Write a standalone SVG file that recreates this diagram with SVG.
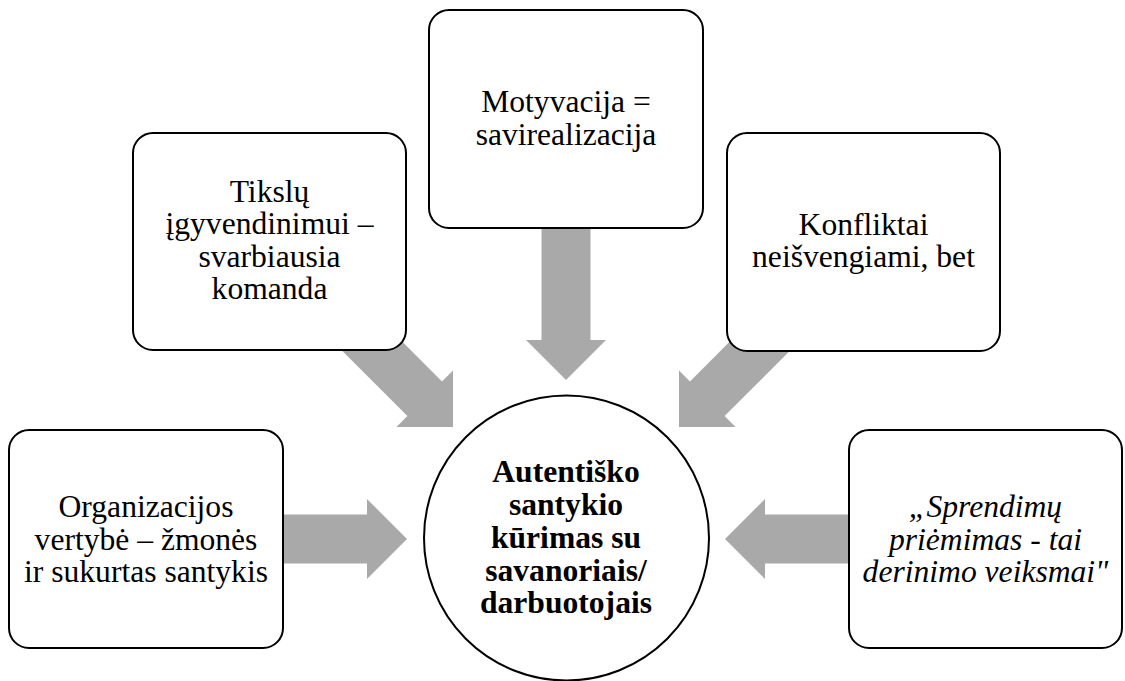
<svg xmlns="http://www.w3.org/2000/svg" width="1125" height="681" viewBox="0 0 1125 681">
<style>
.box{fill:#ffffff;stroke:#000000;stroke-width:2}
.arrow{fill:#A9A9A9;stroke:none}
text{font-family:'Liberation Serif','Times New Roman','DejaVu Serif',serif;font-size:31.6px;fill:#000000;text-anchor:middle}
.b{font-weight:bold}
.i{font-style:italic}
</style>
<defs>
<polygon id="arr" points="-150,-24.5 -40,-24.5 -40,-40 0,0 -40,40 -40,24.5 -150,24.5"/>
</defs>
<rect width="1125" height="681" fill="#ffffff"/>
<g id="connectors">
<polygon class="arrow" points="270,514.5 367,514.5 367,499 407,539 367,579 367,563.5 270,563.5"/>
<polygon class="arrow" points="862,514.5 765,514.5 765,499 725,539 765,579 765,563.5 862,563.5"/>
<polygon class="arrow" points="541.5,220 590.5,220 590.5,340 606,340 566,380 526,340 541.5,340"/>
<use href="#arr" class="arrow" transform="translate(453,427) rotate(45)"/>
<use href="#arr" class="arrow" transform="translate(679,427) rotate(135)"/>
</g>
<g id="node-organizacijos" font-family="Liberation Serif, serif">
<rect class="box" x="9" y="430" width="274" height="218" rx="20"/>
<text x="146" y="517">Organizacijos</text>
<text x="146" y="549.5">vertybė – žmonės</text>
<text x="146" y="582">ir sukurtas santykis</text>
</g>
<g id="node-tikslu">
<rect class="box" x="133" y="133" width="273" height="217" rx="20"/>
<text x="269.5" y="201.5">Tikslų</text>
<text x="269.5" y="234">įgyvendinimui –</text>
<text x="269.5" y="266.5">svarbiausia</text>
<text x="269.5" y="299">komanda</text>
</g>
<g id="node-motyvacija">
<rect class="box" x="429" y="10" width="274" height="218" rx="20"/>
<text x="566" y="112">Motyvacija =</text>
<text x="566" y="144.5">savirealizacija</text>
</g>
<g id="node-konfliktai">
<rect class="box" x="727" y="133" width="273" height="218" rx="20"/>
<text x="863.5" y="235">Konfliktai</text>
<text x="863.5" y="267">neišvengiami, bet</text>
</g>
<g id="node-sprendimu">
<rect class="box" x="849" y="430" width="273" height="218" rx="20"/>
<text class="i" x="985.5" y="517">„Sprendimų</text>
<text class="i" x="985.5" y="549.5">priėmimas - tai</text>
<text class="i" x="985.5" y="582">derinimo veiksmai"</text>
</g>
<g id="node-center">
<circle class="box" cx="566.5" cy="538" r="142.5"/>
<text class="b" x="566" y="482">Autentiško</text>
<text class="b" x="566" y="515">santykio</text>
<text class="b" x="566" y="548">kūrimas su</text>
<text class="b" x="566" y="580.5">savanoriais/</text>
<text class="b" x="566" y="613">darbuotojais</text>
</g>
</svg>
